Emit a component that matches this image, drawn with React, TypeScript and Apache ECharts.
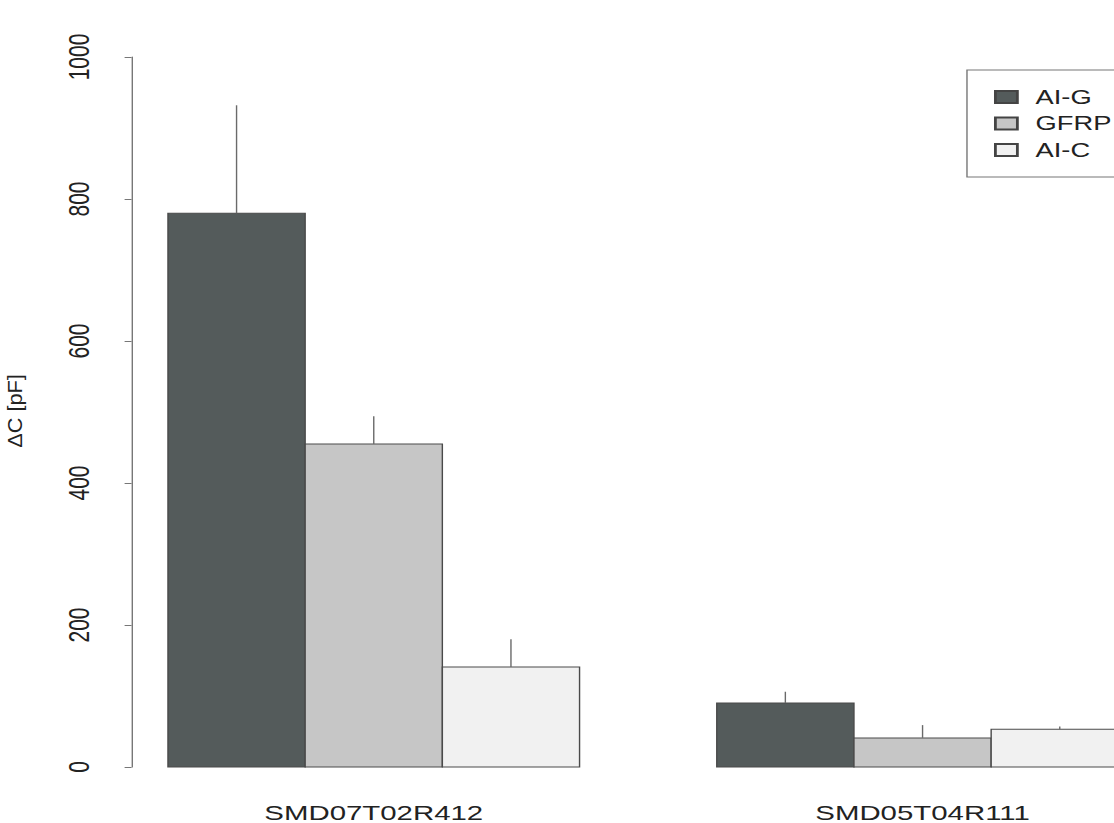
import React, { useEffect, useRef } from "react";
import * as echarts from "echarts";

const categories = ["SMD07T02R412", "SMD05T04R111"];
const seriesNames = ["AI-G", "GFRP", "AI-C"];
const aiGMeans = [780, 90];
const gfrpMeans = [455, 41];
const aiCMeans = [141, 53];
const aiGErr = [152, 16];
const gfrpErr = [39, 18];
const aiCErr = [39, 4];
const yTicks = [0, 200, 400, 600, 800, 1000];

const means = [aiGMeans, gfrpMeans, aiCMeans];
const errs = [aiGErr, gfrpErr, aiCErr];
const fills = ["#545b5b", "#c6c6c6", "#f1f1f1"];

const SX = 1.4;
const X_MIN = 0.735;
const X_MAX = 8.28;
const UNIT = 98;
const GRID_LEFT = 94;
const GRID_TOP = 57;
const GRID_H = 710;
const FONT = "'Liberation Sans', Arial, sans-serif";

export default function App() {
  const ref = useRef<HTMLDivElement>(null);
  useEffect(() => {
    if (!ref.current) return;
    const chart = echarts.init(ref.current, undefined, { renderer: "svg" });
    const nGroup = seriesNames.length + 1;
    const series: any[] = seriesNames.map((name, s) => ({
      type: "custom",
      name,
      xAxisIndex: 0,
      yAxisIndex: 0,
      itemStyle: { color: fills[s], borderColor: "#444", borderWidth: 1 },
      data: categories.map((c, g) => [1 + g * nGroup + s, means[s][g], errs[s][g]]),
      renderItem: (params: any, api: any) => {
        const x0 = api.value(0);
        const v = api.value(1);
        const e = api.value(2);
        const p1 = api.coord([x0, v]);
        const p2 = api.coord([x0 + 1, 0]);
        const e1 = api.coord([x0 + 0.5, v]);
        const e2 = api.coord([x0 + 0.5, v + e]);
        return {
          type: "group",
          children: [
            {
              type: "rect",
              shape: { x: p1[0], y: p1[1], width: p2[0] - p1[0], height: p2[1] - p1[1] },
              style: { fill: fills[s], stroke: "#4a4a4a", lineWidth: 1 },
            },
            {
              type: "line",
              shape: { x1: e1[0], y1: e1[1], x2: e2[0], y2: e2[1] },
              style: { stroke: "#6a6a6a", lineWidth: 1 },
            },
          ],
        };
      },
    }));
    const catLeft = GRID_LEFT + (0.5 - X_MIN) * UNIT;
    chart.setOption({
      animation: false,
      backgroundColor: "#ffffff",
      grid: [
        { left: GRID_LEFT, top: GRID_TOP, width: (X_MAX - X_MIN) * UNIT, height: GRID_H },
        { left: catLeft, top: GRID_TOP, width: categories.length * nGroup * UNIT, height: GRID_H },
      ],
      xAxis: [
        { type: "value", gridIndex: 0, min: X_MIN, max: X_MAX, show: false },
        {
          type: "category",
          gridIndex: 1,
          data: categories,
          axisLine: { show: false },
          axisTick: { show: false },
          axisLabel: { fontSize: 21, fontFamily: FONT, color: "#222", margin: 35 },
        },
      ],
      yAxis: [
        {
          type: "value",
          gridIndex: 0,
          min: yTicks[0],
          max: yTicks[yTicks.length - 1],
          interval: 200,
          axisLine: { show: true, lineStyle: { color: "#777", width: 1 } },
          axisTick: { show: true, length: 5, lineStyle: { color: "#777" } },
          splitLine: { show: false },
          axisLabel: {
            rotate: 90,
            fontSize: 21,
            fontFamily: FONT,
            color: "#222",
            margin: 27,
            formatter: (v: number) => String(v),
          },
        },
        { type: "value", gridIndex: 1, show: false },
      ],
      legend: {
        left: 690.7,
        top: 70,
        orient: "vertical",
        icon: "rect",
        itemWidth: 15.7,
        itemHeight: 12,
        itemGap: 6.5,
        padding: [17, 150, 17, 19.3],
        borderColor: "#777",
        borderWidth: 1,
        data: seriesNames,
        textStyle: { fontSize: 19.5, fontFamily: FONT, color: "#222", lineHeight: 20, padding: [0, 0, 0, 8] },
      },
      graphic: [
        {
          type: "text",
          x: 10.7,
          y: 411,
          rotation: Math.PI / 2,
          scaleX: 1.45,
          style: { text: "ΔC [pF]", fontSize: 15, fontFamily: FONT, fill: "#222", align: "center", verticalAlign: "middle" },
        },
      ],
      series,
    });
    return () => chart.dispose();
  }, []);
  return (
    <div style={{ position: "fixed", left: 0, top: 0, width: 1114, height: 823, overflow: "hidden", background: "#fff" }}>
      <div
        ref={ref}
        style={{ width: 900, height: 823, transform: `scaleX(${SX})`, transformOrigin: "0 0" }}
      />
    </div>
  );
}
